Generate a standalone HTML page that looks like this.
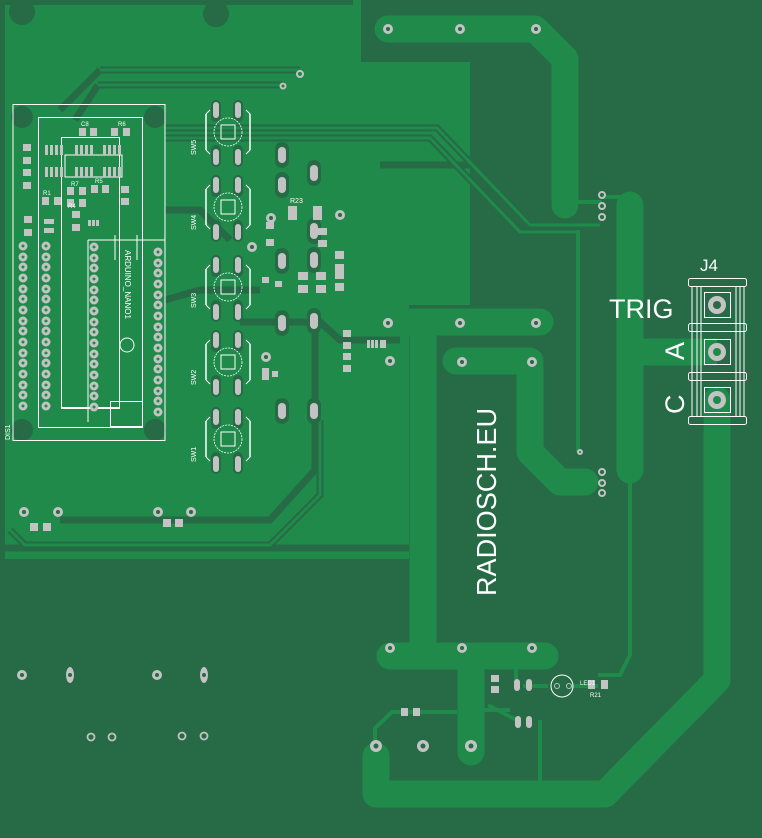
<!DOCTYPE html>
<html><head><meta charset="utf-8"><style>
html,body{margin:0;padding:0;background:#266a46;}
svg{display:block}
text{font-family:"Liberation Sans",sans-serif;fill:#fff}
</style></head><body>
<svg width="762" height="838" viewBox="0 0 762 838" xmlns="http://www.w3.org/2000/svg">
<defs>
<g id="sw">
  <rect x="-17" y="-30" width="10" height="22" rx="5" fill="#266a46"/>
  <rect x="5" y="-30" width="10" height="22" rx="5" fill="#266a46"/>
  <rect x="-17" y="15" width="10" height="22" rx="5" fill="#266a46"/>
  <rect x="5" y="15" width="10" height="22" rx="5" fill="#266a46"/>
  <rect x="-15" y="-28" width="6" height="16" rx="3" fill="#c3c3c3"/>
  <rect x="7" y="-28" width="6" height="16" rx="3" fill="#c3c3c3"/>
  <rect x="-15" y="19" width="6" height="16" rx="3" fill="#c3c3c3"/>
  <rect x="7" y="19" width="6" height="16" rx="3" fill="#c3c3c3"/>
  <path d="M-22,-16 L-18,-20 M18,-20 L22,-16 L22,20 L18,24 M-18,24 L-22,20 Z M-22,-16 L-22,20" stroke="#fff" stroke-width="1" fill="none"/>
  <line x1="-22" y1="-16" x2="-22" y2="20" stroke="#fff" stroke-width="1.5"/>
  <line x1="22" y1="-16" x2="22" y2="20" stroke="#fff" stroke-width="1.5"/>
  <circle cx="0" cy="2" r="14" stroke="#fff" stroke-width="0.8" fill="none" stroke-dasharray="2 1"/>
  <rect x="-7" y="-5" width="14" height="14" stroke="#fff" stroke-width="1" fill="none"/>
</g>
<g id="via"><circle r="5" fill="#c3c3c3"/><circle r="2" fill="#266a46"/></g>
<g id="pin"><circle r="4.5" fill="#c3c3c3"/><circle r="1.5" fill="#1f8a4a"/></g>
</defs>

<rect width="762" height="838" fill="#266a46"/>

<!-- main copper pour -->
<path d="M5,5 H353 V62 H470 V305 H409 V559 H5 Z" fill="#1f8a4a"/>
<!-- clearance lines in pour -->
<g fill="none" stroke="#266a46" stroke-width="7">
  <path d="M470,165 H380"/>
  <path d="M5,548 H409"/>
  <path d="M10,530 L25,545 H270 L320,495 V420"/>
  <path d="M100,70 H300 M98,85 H285"/>
  <path d="M60,110 L100,70 M75,120 L98,85"/>
  <path d="M165,128 H437 L530,225 H600"/>
  <path d="M165,138 H430 L520,232 H578"/>
  <path d="M240,322 H320 L340,340 H400"/>
  <path d="M60,520 L270,520 L315,470 V330"/>
  <path d="M165,300 L200,290 H260"/>
  <path d="M165,210 L200,210 L230,240"/>
</g>
<g fill="none" stroke="#1f8a4a" stroke-width="3">
  <path d="M10,530 L25,545 H270 L320,495 V420"/>
  <path d="M100,70 H300 M98,85 H285"/>
  <path d="M165,128 H437 L530,225 H600"/>
  <path d="M165,138 H430 L520,232 H578"/>
</g>
<rect x="353" y="0" width="8" height="62" fill="#1f8a4a"/>

<!-- big traces -->
<g fill="none" stroke="#1f8a4a" stroke-linecap="round" stroke-linejoin="round">
  <path d="M388,29 H535 L565,59 V205" stroke-width="27"/>
  <path d="M382,322 H540" stroke-width="27"/>
  <path d="M423,322 V650" stroke-width="27" stroke-linecap="butt"/>
  <path d="M456,361 H530 V452 L560,482 H585" stroke-width="27"/>
  <path d="M630,205 V470" stroke-width="27"/>
  <path d="M630,352 H717" stroke-width="27" stroke-linecap="butt"/>
  <path d="M390,656 H545" stroke-width="27"/>
  <path d="M471,656 V752" stroke-width="27"/>
  <path d="M717,400 V680 L605,794 H376 V756" stroke-width="27"/>
</g>
<g fill="none" stroke="#1f8a4a" stroke-width="4">
  <path d="M565,202 H602 M630,197 H602"/>
  <path d="M578,230 V452"/>
  <path d="M595,483 H602"/>
  <path d="M630,470 V655 L620,675 H598"/>
  <path d="M540,720 V790"/>
  <path d="M470,710 H510 M523,686 H548 M570,686 H598"/>
  <path d="M488,705 L520,722"/>
  <path d="M400,712 H392 L375,728 V755"/>
  <path d="M400,712 H457"/>
  <path d="M516,680 V668"/>
</g>

<!-- vias/pads on big traces -->
<g>
  <use href="#via" x="388" y="29"/><use href="#via" x="460" y="29"/><use href="#via" x="536" y="29"/>
  <use href="#via" x="388" y="323"/><use href="#via" x="460" y="323"/><use href="#via" x="536" y="323"/>
  <use href="#via" x="462" y="362"/><use href="#via" x="532" y="362"/>
  <use href="#via" x="390" y="648"/><use href="#via" x="462" y="648"/><use href="#via" x="532" y="648"/>
  <circle cx="376" cy="746" r="6" fill="#c3c3c3"/><circle cx="376" cy="746" r="2.5" fill="#266a46"/>
  <circle cx="423" cy="746" r="6" fill="#c3c3c3"/><circle cx="423" cy="746" r="2.5" fill="#266a46"/>
  <circle cx="471" cy="746" r="6" fill="#c3c3c3"/><circle cx="471" cy="746" r="2.5" fill="#266a46"/>
  <g fill="none" stroke="#c3c3c3" stroke-width="2"><circle cx="602" cy="195" r="3"/><circle cx="602" cy="206" r="3"/><circle cx="602" cy="217" r="3"/>
  <circle cx="602" cy="472" r="3"/><circle cx="602" cy="483" r="3"/><circle cx="602" cy="493" r="3"/>
  <circle cx="580" cy="452" r="2"/><circle cx="300" cy="74" r="3"/><circle cx="283" cy="86" r="2.5"/></g>
  <use href="#via" x="22" y="675"/><ellipse cx="70" cy="675" rx="4" ry="8" fill="#c3c3c3"/><circle cx="70" cy="675" r="2" fill="#266a46"/>
  <use href="#via" x="157" y="675"/><ellipse cx="204" cy="675" rx="4" ry="8" fill="#c3c3c3"/><circle cx="204" cy="675" r="2" fill="#266a46"/>
  <g fill="none" stroke="#c3c3c3" stroke-width="1.8"><circle cx="91" cy="737" r="3.5"/><circle cx="112" cy="737" r="3.5"/><circle cx="182" cy="736" r="3.5"/><circle cx="204" cy="736" r="3.5"/></g>
  <circle cx="22" cy="12" r="13" fill="#266a46"/><circle cx="216" cy="14" r="13" fill="#266a46"/>
  <circle cx="22" cy="117" r="11" fill="#266a46"/><circle cx="155" cy="117" r="11" fill="#266a46"/>
  <circle cx="22" cy="430" r="11" fill="#266a46"/><circle cx="155" cy="430" r="11" fill="#266a46"/>
  <use href="#via" x="24" y="512"/><use href="#via" x="58" y="512"/><use href="#via" x="158" y="512"/><use href="#via" x="191" y="512"/>
  <rect x="30" y="523" width="8" height="8" fill="#c3c3c3"/><rect x="43" y="523" width="8" height="8" fill="#c3c3c3"/>
  <rect x="163" y="519" width="8" height="8" fill="#c3c3c3"/><rect x="175" y="519" width="8" height="8" fill="#c3c3c3"/>
</g>

<!-- small SMD at bottom -->
<g fill="#c3c3c3">
  <rect x="401" y="708" width="7" height="8"/><rect x="413" y="708" width="7" height="8"/>
  <rect x="491" y="675" width="8" height="7"/><rect x="491" y="686" width="8" height="7"/>
  <rect x="514" y="679" width="6" height="12" rx="3"/><rect x="526" y="679" width="6" height="12" rx="3"/>
  <rect x="515" y="716" width="6" height="12" rx="3"/><rect x="526" y="716" width="6" height="12" rx="3"/>
  <rect x="588" y="680" width="7" height="9"/><rect x="601" y="680" width="7" height="9"/>
</g>
<circle cx="562" cy="686" r="11" fill="none" stroke="#fff" stroke-width="1"/>
<circle cx="557" cy="686" r="2.5" fill="none" stroke="#c3c3c3"/><circle cx="569" cy="686" r="2.5" fill="none" stroke="#c3c3c3"/>

<!-- switches -->
<use href="#sw" x="228" y="130"/>
<use href="#sw" x="228" y="205"/>
<use href="#sw" x="228" y="285"/>
<use href="#sw" x="228" y="360"/>
<use href="#sw" x="228" y="437"/>
<g font-size="7"><text x="196" y="155" transform="rotate(-90 196 155)">SW5</text><text x="196" y="230" transform="rotate(-90 196 230)">SW4</text><text x="196" y="308" transform="rotate(-90 196 308)">SW3</text><text x="196" y="385" transform="rotate(-90 196 385)">SW2</text><text x="196" y="462" transform="rotate(-90 196 462)">SW1</text></g>

<!-- misc oblong pads -->
<g>
  <g fill="#266a46"><rect x="275" y="142" width="14" height="26" rx="7"/><rect x="275" y="172" width="14" height="26" rx="7"/><rect x="307" y="160" width="14" height="26" rx="7"/><rect x="307" y="218" width="14" height="26" rx="7"/><rect x="275" y="248" width="14" height="26" rx="7"/><rect x="307" y="247" width="14" height="26" rx="7"/>
  <rect x="275" y="310" width="14" height="26" rx="7"/><rect x="307" y="308" width="14" height="26" rx="7"/><rect x="275" y="398" width="14" height="26" rx="7"/><rect x="307" y="398" width="14" height="26" rx="7"/></g>
  <g fill="#c3c3c3"><rect x="278" y="147" width="8" height="16" rx="4"/><rect x="278" y="177" width="8" height="16" rx="4"/><rect x="310" y="165" width="8" height="16" rx="4"/><rect x="310" y="223" width="8" height="16" rx="4"/><rect x="278" y="253" width="8" height="16" rx="4"/><rect x="310" y="252" width="8" height="16" rx="4"/>
  <rect x="278" y="315" width="8" height="16" rx="4"/><rect x="310" y="313" width="8" height="16" rx="4"/><rect x="278" y="403" width="8" height="16" rx="4"/><rect x="310" y="403" width="8" height="16" rx="4"/>
  <rect x="288" y="206" width="9" height="14"/><rect x="313" y="206" width="9" height="14"/>
  <rect x="266" y="222" width="8" height="7"/><rect x="266" y="239" width="8" height="7"/>
  <rect x="318" y="228" width="9" height="7"/><rect x="318" y="240" width="9" height="7"/>
  <rect x="335" y="251" width="9" height="8"/><rect x="335" y="264" width="9" height="8"/>
  <rect x="335" y="271" width="9" height="8"/><rect x="335" y="283" width="9" height="8"/>
  <rect x="298" y="272" width="10" height="8"/><rect x="298" y="285" width="10" height="8"/>
  <rect x="316" y="272" width="10" height="8"/><rect x="316" y="285" width="10" height="8"/>
  <rect x="262" y="277" width="7" height="6"/><rect x="275" y="281" width="7" height="6"/>
  <rect x="343" y="330" width="8" height="7"/><rect x="343" y="342" width="8" height="7"/><rect x="343" y="353" width="8" height="7"/><rect x="343" y="365" width="8" height="7"/>
  <rect x="367" y="340" width="3" height="8"/><rect x="371" y="340" width="3" height="8"/><rect x="375" y="340" width="3" height="8"/><rect x="380" y="340" width="6" height="8"/>
  <rect x="262" y="368" width="7" height="6"/><rect x="262" y="374" width="7" height="6"/><rect x="272" y="371" width="6" height="6"/>
  </g>
  <use href="#via" x="388" y="323"/><use href="#via" x="390" y="361"/><use href="#via" x="340" y="215"/><use href="#via" x="252" y="247"/><use href="#via" x="271" y="218"/><use href="#via" x="266" y="357"/>
</g>
<g font-size="7"><text x="290" y="203">R23</text></g>

<!-- Arduino module outline -->
<g fill="none" stroke="#fff" stroke-width="1">
  <rect x="13" y="104.5" width="152" height="336"/>
  <rect x="38.5" y="117.5" width="104" height="310"/>
  <rect x="61.5" y="137.5" width="58" height="270"/>
  <line x1="88" y1="240" x2="88" y2="422"/>
  <line x1="88" y1="240" x2="165" y2="240"/>
  <line x1="115" y1="235" x2="115" y2="260"/><line x1="137" y1="235" x2="137" y2="260"/>
  <rect x="110.5" y="401.5" width="32" height="25"/>
  <circle cx="127" cy="345" r="7"/>
  <rect x="65" y="155" width="57" height="22"/>
</g>
<line x1="61" y1="408" x2="120" y2="408" stroke="#fff" stroke-width="2"/>
<text x="125" y="250" font-size="8" transform="rotate(90 125 250)">ARDUINO_NANO1</text>
<text x="10" y="440" font-size="7" transform="rotate(-90 10 440)">DIS1</text>
<g>
  <g id="col1">
  <use href="#pin" x="23" y="246"/><use href="#pin" x="23" y="257"/><use href="#pin" x="23" y="267"/><use href="#pin" x="23" y="278"/><use href="#pin" x="23" y="289"/><use href="#pin" x="23" y="299"/><use href="#pin" x="23" y="310"/><use href="#pin" x="23" y="321"/><use href="#pin" x="23" y="331"/><use href="#pin" x="23" y="342"/><use href="#pin" x="23" y="353"/><use href="#pin" x="23" y="363"/><use href="#pin" x="23" y="374"/><use href="#pin" x="23" y="385"/><use href="#pin" x="23" y="395"/><use href="#pin" x="23" y="406"/>
  </g>
  <use href="#col1" x="23"/>
  <use href="#col1" x="71" y="1"/>
  <use href="#col1" x="135" y="6"/>
</g>
<g fill="#c3c3c3">
  <rect x="45" y="145" width="3" height="10"/><rect x="50" y="145" width="3" height="10"/><rect x="55" y="145" width="3" height="10"/><rect x="60" y="145" width="3" height="10"/>
  <rect x="45" y="167" width="3" height="10"/><rect x="50" y="167" width="3" height="10"/><rect x="55" y="167" width="3" height="10"/><rect x="60" y="167" width="3" height="10"/>
  <rect x="75" y="145" width="3" height="10"/><rect x="80" y="145" width="3" height="10"/><rect x="85" y="145" width="3" height="10"/><rect x="90" y="145" width="3" height="10"/>
  <rect x="75" y="167" width="3" height="10"/><rect x="80" y="167" width="3" height="10"/><rect x="85" y="167" width="3" height="10"/><rect x="90" y="167" width="3" height="10"/>
  <rect x="103" y="145" width="3" height="10"/><rect x="108" y="145" width="3" height="10"/><rect x="113" y="145" width="3" height="10"/><rect x="118" y="145" width="3" height="10"/>
  <rect x="103" y="167" width="3" height="10"/><rect x="108" y="167" width="3" height="10"/><rect x="113" y="167" width="3" height="10"/><rect x="118" y="167" width="3" height="10"/>
  <rect x="79" y="128" width="7" height="8"/><rect x="90" y="128" width="7" height="8"/>
  <rect x="111" y="128" width="7" height="8"/><rect x="123" y="128" width="7" height="8"/>
  <rect x="23" y="144" width="8" height="7"/><rect x="23" y="157" width="8" height="7"/>
  <rect x="23" y="169" width="8" height="7"/><rect x="23" y="182" width="8" height="7"/>
  <rect x="42" y="197" width="7" height="8"/><rect x="54" y="197" width="7" height="8"/>
  <rect x="67" y="187" width="7" height="8"/><rect x="79" y="187" width="7" height="8"/>
  <rect x="67" y="199" width="7" height="8"/><rect x="79" y="199" width="7" height="8"/>
  <rect x="91" y="185" width="7" height="8"/><rect x="102" y="185" width="7" height="8"/>
  <rect x="121" y="186" width="8" height="7"/><rect x="121" y="198" width="8" height="7"/>
  <rect x="24" y="216" width="8" height="7"/><rect x="24" y="229" width="8" height="7"/>
  <rect x="72" y="211" width="8" height="7"/><rect x="72" y="224" width="8" height="7"/>
  <rect x="44" y="219" width="10" height="5"/><rect x="44" y="228" width="10" height="5"/>
  <rect x="88" y="220" width="3" height="6"/><rect x="92" y="220" width="3" height="6"/><rect x="96" y="220" width="3" height="6"/>
</g>
<g font-size="6"><text x="81" y="126">C8</text><text x="118" y="126">R6</text><text x="71" y="186">R7</text><text x="95" y="183">R5</text><text x="43" y="195">R1</text><text x="68" y="208">R4</text></g>

<!-- J4 connector -->
<g fill="none" stroke="#fff" stroke-width="1">
  <rect x="688.5" y="278.5" width="58" height="8" rx="2"/>
  <rect x="688.5" y="323.5" width="58" height="8" rx="2"/>
  <rect x="688.5" y="372.5" width="58" height="8" rx="2"/>
  <rect x="688.5" y="416.5" width="58" height="8" rx="2"/>
  <path d="M692,287 V416 M697,287 V416 M701,287 V416 M736,287 V416 M740,287 V416 M744,287 V416"/>
  <rect x="704.5" y="292.5" width="26" height="25"/>
  <rect x="704.5" y="339.5" width="26" height="25"/>
  <rect x="704.5" y="387.5" width="26" height="25"/>
</g>
<g>
  <circle cx="717" cy="305" r="9" fill="#c3c3c3"/><circle cx="717" cy="305" r="4" fill="#266a46"/>
  <circle cx="717" cy="352" r="9" fill="#c3c3c3"/><circle cx="717" cy="352" r="4" fill="#1f8a4a"/>
  <circle cx="717" cy="400" r="9" fill="#c3c3c3"/><circle cx="717" cy="400" r="4" fill="#1f8a4a"/>
</g>
<text x="700" y="271" font-size="17">J4</text>
<text x="609" y="318" font-size="27">TRIG</text>
<text x="684" y="360" font-size="27" transform="rotate(-90 684 360)">A</text>
<text x="684" y="414" font-size="27" transform="rotate(-90 684 414)">C</text>
<text x="496" y="596" font-size="28" transform="rotate(-90 496 596)" textLength="188" lengthAdjust="spacingAndGlyphs">RADIOSCH.EU</text>
<text x="580" y="685" font-size="6">LED1</text><text x="590" y="697" font-size="6">R21</text>
</svg>
</body></html>
